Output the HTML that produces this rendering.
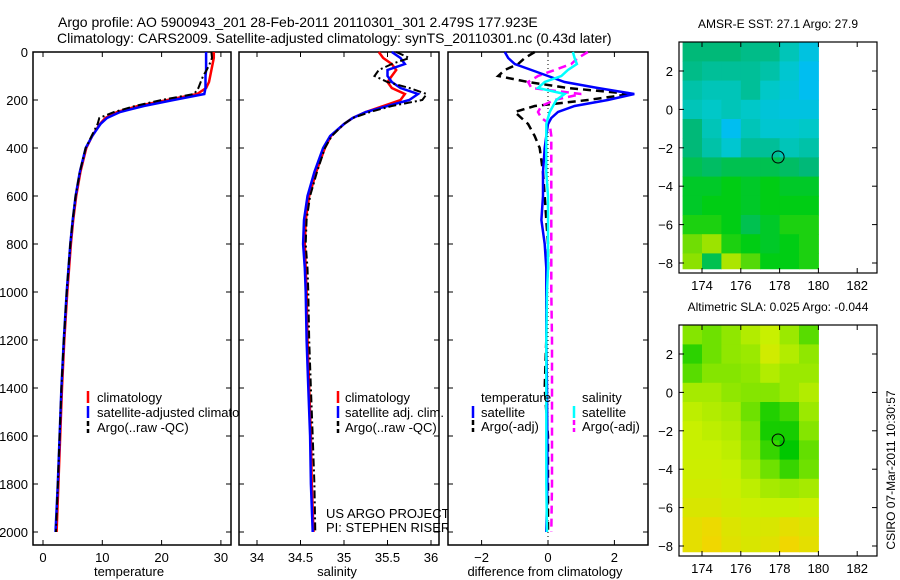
<!DOCTYPE html>
<html><head><meta charset="utf-8"><style>
body{margin:0;background:#fff}
svg{display:block;font-family:"Liberation Sans",sans-serif}
text{font-size:13px;fill:#000}
</style></head><body>
<svg id="fig" width="900" height="580" viewBox="0 0 900 580" xmlns="http://www.w3.org/2000/svg">
<text x="58" y="27" style="font-size:14px">Argo profile: AO 5900943_201 28-Feb-2011 20110301_301 2.479S 177.923E</text>
<text x="57" y="43" style="font-size:14px">Climatology: CARS2009. Satellite-adjusted climatology: synTS_20110301.nc (0.43d later)</text>
<g id="g"></g>
</svg>
<script>
// ---------- data ----------
const depths = [0,25,50,75,100,125,150,175,200,225,250,275,300,350,400,500,600,700,800,900,1000,1200,1400,1600,1800,2000];
const tempClim = [28.8,28.8,28.6,28.4,28.2,28.0,27.5,26.0,21.0,16.0,12.5,10.5,9.6,8.3,7.3,6.3,5.6,5.1,4.7,4.4,4.1,3.6,3.2,2.9,2.6,2.3];
const tempSat  = [27.5,27.5,27.5,27.5,27.4,27.4,27.4,27.2,22.0,17.0,13.0,10.8,9.7,8.3,7.2,6.2,5.5,5.0,4.6,4.3,4.0,3.5,3.1,2.8,2.5,2.1];
const tempArgo = [28.4,28.5,28.1,27.6,27.0,26.6,26.2,25.5,20.0,15.5,12.0,9.5,9.2,8.2,7.2,6.2,5.5,5.0,4.6,4.3,4.0,3.5,3.1,2.8,2.5,2.2];
const salClim = [35.40,35.45,35.55,35.60,35.55,35.50,35.55,35.70,35.65,35.45,35.25,35.10,35.00,34.85,34.78,34.68,34.60,34.56,34.55,34.56,34.57,34.58,34.60,34.62,34.63,34.65];
const salSat  = [35.55,35.65,35.70,35.50,35.50,35.55,35.65,35.85,35.75,35.50,35.25,35.10,35.00,34.84,34.76,34.66,34.58,34.54,34.53,34.55,34.56,34.57,34.59,34.61,34.62,34.64];
const salArgo = [35.60,35.75,35.55,35.40,35.35,35.50,35.75,35.95,35.90,35.55,35.30,35.10,35.00,34.86,34.78,34.69,34.61,34.57,34.56,34.58,34.59,34.60,34.62,34.64,34.66,34.67];
const dTempSat  = [-1.3,-1.2,-1.0,-0.5,0.0,0.5,1.5,2.6,1.8,0.8,0.3,0.1,0.0,-0.05,-0.1,-0.15,-0.15,-0.2,-0.1,-0.05,-0.05,-0.05,-0.03,-0.02,-0.02,-0.05];
const dTempArgo = [-0.4,-0.7,-0.9,-1.3,-1.5,-0.6,0.6,2.5,1.2,-0.4,-1.0,-0.8,-0.6,-0.4,-0.25,-0.15,-0.1,-0.05,0.0,0.0,-0.05,-0.05,-0.1,0.0,0.0,0.0];
const dSalSat   = [0.75,0.8,0.87,0.6,0.4,-0.1,-0.3,0.5,0.25,0.15,0.05,0.0,-0.05,-0.05,-0.05,-0.05,0.0,0.0,0.0,0.0,-0.03,-0.05,-0.05,-0.05,-0.05,-0.03];
const dSalArgo  = [1.2,0.9,0.7,0.2,-0.3,-0.6,-0.5,1.0,0.2,-0.2,-0.3,-0.2,0.05,0.1,0.1,0.1,0.1,0.1,0.1,0.1,0.1,0.12,0.12,0.12,0.12,0.1];
const depthTicks = [0,200,400,600,800,1000,1200,1400,1600,1800,2000];
const tempTicks = [0,10,20,30];
const salTicks = [34,34.5,35,35.5,36];
const diffTicks = [-2,0,2];
const lonTicks = [174,176,178,180,182];
const latTicks = [2,0,-2,-4,-6,-8];
const mapLons = [173,174,175,176,177,178,179];
const mapLats = [3.5,2.5,1.5,0.5,-0.5,-1.5,-2.5,-3.5,-4.5,-5.5,-6.5,-7.5];
const sstGrid = [
[28.0,28.0,28.0,27.9,27.9,27.6,27.2],
[27.9,27.8,27.8,27.8,27.7,27.4,27.0],
[27.7,27.6,27.6,27.8,27.5,27.3,27.0],
[27.6,27.5,27.6,27.5,27.3,27.2,27.2],
[28.0,27.6,27.0,27.6,27.4,27.4,27.5],
[28.0,27.7,27.4,27.8,27.8,27.6,27.7],
[28.2,28.1,28.2,28.2,28.2,28.1,28.0],
[28.4,28.4,28.5,28.4,28.5,28.4,28.4],
[28.4,28.5,28.5,28.4,28.5,28.5,28.5],
[28.6,28.6,28.5,28.2,28.4,28.6,28.6],
[28.9,29.1,28.6,28.5,28.4,28.5,28.6],
[29.0,28.2,29.2,28.8,28.5,28.5,28.6]];
const slaGrid = [
[0.02,0.0,0.03,0.06,0.08,0.04,-0.02],
[-0.06,0.0,0.03,0.04,0.1,0.06,0.03],
[-0.02,0.02,0.02,0.03,0.06,0.04,0.04],
[0.05,0.05,0.03,0.02,0.02,0.04,0.06],
[0.07,0.06,0.05,0.0,-0.07,-0.04,0.04],
[0.08,0.07,0.06,0.02,-0.08,-0.08,0.02],
[0.08,0.08,0.07,0.03,-0.05,-0.1,-0.01],
[0.09,0.09,0.08,0.05,0.0,-0.05,0.0],
[0.1,0.1,0.09,0.07,0.05,0.04,0.05],
[0.12,0.12,0.1,0.09,0.08,0.08,0.09],
[0.15,0.17,0.13,0.11,0.12,0.15,0.13],
[0.15,0.18,0.14,0.12,0.14,0.18,0.15]];
const floatLon = 177.923, floatLat = -2.479;

// ---------- helpers ----------
const NS="http://www.w3.org/2000/svg";
const G=document.getElementById('g');
function mk(tag,attrs,parent){const e=document.createElementNS(NS,tag);for(const k in attrs)e.setAttribute(k,attrs[k]);(parent||G).appendChild(e);return e;}
const yD = d => 52 + d*0.24;
const panels = [
 {x0:33,x1:231,sx:v=>43+v*5.93,ticks:tempTicks,name:'temperature'},
 {x0:239,x1:439,sx:v=>257+(v-34)*87,ticks:salTicks,name:'salinity'},
 {x0:448,x1:648,sx:v=>548+v*33.2,ticks:diffTicks,name:'difference'}
];
function drawPanelFrame(p,i){
  const r=mk('rect',{x:p.x0,y:52,width:p.x1-p.x0,height:493,fill:'#fff',stroke:'#000','stroke-width':1.5});
  
  
  p.ticks.forEach(t=>{
    const x=p.sx(t);
    mk('line',{x1:x,y1:545,x2:x,y2:540,stroke:'#000'});
    mk('line',{x1:x,y1:52,x2:x,y2:57,stroke:'#000'});
    const tx=mk('text',{x:x,y:562,'text-anchor':'middle'});tx.textContent=String(t).replace('-','\u2212');
    
    
  });
  depthTicks.forEach(d=>{
    const y=yD(d);
    mk('line',{x1:p.x0,y1:y,x2:p.x0+5,y2:y,stroke:'#000'});
    mk('line',{x1:p.x1,y1:y,x2:p.x1-5,y2:y,stroke:'#000'});
    if(i===0){const tx=mk('text',{x:28,y:y+5,'text-anchor':'end'});tx.textContent=d;
      
      }
  });
}
function line(p,vals,color,dash,name,w){
  let d='';vals.forEach((v,k)=>{d+=(k?'L':'M')+p.sx(v).toFixed(1)+','+yD(depths[k]).toFixed(1);});
  const e=mk('path',{d:d,fill:'none',stroke:color,'stroke-width':w||2.5,'stroke-dasharray':dash||'none'});
  
  
}
function txt(x,y,s,name,extra){const e=mk('text',Object.assign({x:x,y:y},extra||{}));e.textContent=s;
  
  return e;}
function legLine(x,y,color,dash){mk('line',{x1:x,y1:y-11,x2:x,y2:y+1,stroke:color,'stroke-width':2.5,'stroke-dasharray':dash||'none'});}

// panel 1
drawPanelFrame(panels[0],0);
line(panels[0],tempClim,'#f00',null,'temp-climatology-line');
line(panels[0],tempSat,'#00f',null,'temp-satellite-line');
line(panels[0],tempArgo,'#000','8,3,2,3','temp-argo-line',2);
legLine(88,402,'#f00');txt(97,402,'climatology','legend-climatology');
legLine(88,417,'#00f');txt(97,417,'satellite-adjusted climatology','legend-satellite-adjusted');
legLine(88,432,'#000','5,3');txt(97,432,'Argo(..raw -QC)','legend-argo');
// panel 2
drawPanelFrame(panels[1],1);
line(panels[1],salClim,'#f00',null,'sal-climatology-line');
line(panels[1],salSat,'#00f',null,'sal-satellite-line');
line(panels[1],salArgo,'#000','8,3,2,3','sal-argo-line',2);
legLine(338,402,'#f00');txt(345,402,'climatology','legend-climatology-sal');
legLine(338,417,'#00f');txt(345,417,'satellite adj. clim.','legend-satellite-sal');
legLine(338,432,'#000','5,3');txt(345,432,'Argo(..raw -QC)','legend-argo-sal');
txt(326,518,'US ARGO PROJECT','project-credit');
txt(326,532,'PI: STEPHEN RISER','pi-credit');
// panel 3
drawPanelFrame(panels[2],2);
mk('line',{x1:548,y1:52,x2:548,y2:545,stroke:'#000','stroke-dasharray':'1,3'});
line(panels[2],dTempArgo,'#000','8,5','diff-temp-argo-line');
line(panels[2],dSalArgo,'#f0f','8,5','diff-sal-argo-line');
line(panels[2],dTempSat,'#00f',null,'diff-temp-satellite-line');
line(panels[2],dSalSat,'#0ff',null,'diff-sal-satellite-line');
txt(481,402,'temperature','legend-header-temperature');
legLine(473,417,'#00f');txt(481,417,'satellite','legend-temp-satellite');
legLine(473,431,'#000','5,3');txt(481,431,'Argo(-adj)','legend-temp-argo');
txt(582,402,'salinity','legend-header-salinity');
legLine(574,417,'#0ff');txt(582,417,'satellite','legend-sal-satellite');
legLine(574,431,'#f0f','5,3');txt(582,431,'Argo(-adj)','legend-sal-argo');
txt(129,576,'temperature','x-axis-title-temperature',{'text-anchor':'middle'});
txt(337,576,'salinity','x-axis-title-salinity',{'text-anchor':'middle'});
txt(545,576,'difference from climatology','x-axis-title-difference',{'text-anchor':'middle'});

// ---------- maps ----------
function rgb(a){return 'rgb('+a.join(',')+')';}
function lerpC(stops,v){
  if(v<=stops[0][0])return rgb(stops[0][1]);
  for(let i=1;i<stops.length;i++){if(v<=stops[i][0]){const a=stops[i-1],b=stops[i],t=(v-a[0])/(b[0]-a[0]);
    return rgb(a[1].map((c,j)=>Math.round(c+(b[1][j]-c)*t)));}}
  return rgb(stops[stops.length-1][1]);
}
const sstStops=[[26.6,[0,90,230]],[27.0,[0,190,240]],[27.5,[0,200,200]],[28.0,[0,185,120]],[28.5,[0,205,20]],[29.0,[140,225,0]],[29.5,[220,235,0]]];
const slaStops=[[-0.1,[0,200,0]],[0.0,[110,225,0]],[0.08,[200,240,0]],[0.18,[240,215,0]]];
function drawMap(top,grid,stops,title,name){
  const lon=v=>702+(v-174)*19.4;
  const lat=v=>top+29+(2-v)*19.2;
  grid.forEach((row,i)=>row.forEach((v,j)=>{
    const x0=Math.max(679,lon(mapLons[j])),x1=Math.min(821,lon(mapLons[j]+1));
    const y0=Math.max(top,lat(mapLats[i])),y1=Math.min(lat(-8.3),lat(mapLats[i]-1));
    const r=mk('rect',{x:x0,y:y0,width:x1-x0+0.5,height:y1-y0+0.5,fill:lerpC(stops,v)});
    
    
  }));
  const f=mk('rect',{x:679,y:top,width:198,height:231,fill:'none',stroke:'#000','stroke-width':1.2});
  
  
  lonTicks.forEach(t=>{const x=lon(t);
    mk('line',{x1:x,y1:top+231,x2:x,y2:top+226,stroke:'#000'});mk('line',{x1:x,y1:top,x2:x,y2:top+5,stroke:'#000'});
    txt(x,top+248,t,name+'-lon-label',{'text-anchor':'middle'});});
  latTicks.forEach(t=>{const y=lat(t);
    mk('line',{x1:679,y1:y,x2:684,y2:y,stroke:'#000'});mk('line',{x1:877,y1:y,x2:872,y2:y,stroke:'#000'});
    txt(673,y+5,String(t).replace('-','\u2212'),name+'-lat-label',{'text-anchor':'end'});});
  const c=mk('circle',{cx:lon(floatLon),cy:lat(floatLat),r:6,fill:'none',stroke:'#000','stroke-width':1});
  
  
  txt(778,top-14,title,name+'-title',{'text-anchor':'middle','style':'font-size:12px'});
}
drawMap(42,sstGrid,sstStops,'AMSR-E SST: 27.1 Argo: 27.9','sst-map');
drawMap(325,slaGrid,slaStops,'Altimetric SLA: 0.025 Argo: -0.044','sla-map');
txt(0,0,'CSIRO 07-Mar-2011 10:30:57','timestamp',{'transform':'translate(895,470) rotate(-90)','text-anchor':'middle','style':'font-size:12px'});
</script>
</body></html>
